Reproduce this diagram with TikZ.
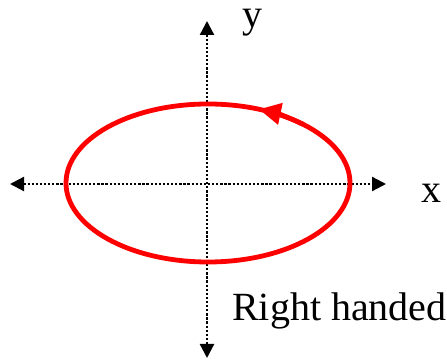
\documentclass[tikz,border=0pt]{standalone}
\usepackage{fontspec}
\setmainfont{Liberation Serif}
\usepackage{tikz}
\usetikzlibrary{arrows.meta,calc}
\definecolor{ring}{HTML}{FF0000}
\definecolor{ax}{HTML}{000000}

\begin{document}
\begin{tikzpicture}[x=1pt,y=1pt,
    axis/.style={ax,line width=2.3pt,dash pattern=on 2.3pt off 1.8pt,{Triangle[length=14pt,width=14pt]}-{Triangle[length=14pt,width=14pt]}},
    loop/.style={ring,line width=4.8pt},
    lbl/.style={inner sep=0pt,font=\fontsize{40}{48}\selectfont}]
  \useasboundingbox (0,0) rectangle (447,361);
  \coordinate (o) at (208,178);
  \coordinate (xl) at (10,177);
  \coordinate (xr) at (386,177);
  \coordinate (yt) at (207,340);
  \coordinate (yb) at (207,3);
  % axes
  \draw[axis] (xl) -- (xr);
  \draw[axis] (yt) -- (yb);
  % polarisation ellipse
  \draw[loop] (o) ellipse[x radius=142, y radius=79];
  \draw[loop,-{Triangle[length=22pt,width=21pt]}] ($(o)+(48:142 and 79)$)
    arc[start angle=48, end angle=69, x radius=142, y radius=79];
  \node[lbl,anchor=base] (ylbl) at (252,333) {y};
  \node[lbl,anchor=base] (xlbl) at (431,158) {x};
  \node[lbl,anchor=base west] (hand) at (232,40) {Right handed};
\end{tikzpicture}
\end{document}
